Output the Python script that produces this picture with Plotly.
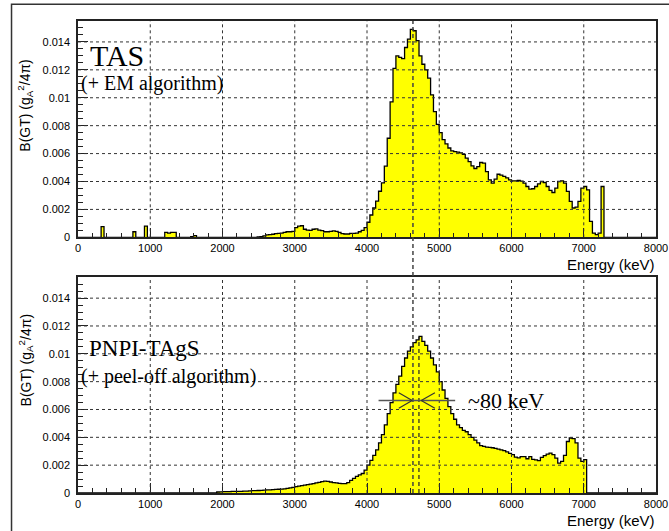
import numpy as np
import plotly.graph_objects as go

# ---------------- data (40 keV bins, value = B(GT) in g_A^2/4pi) ----------------
BIN_KEV = 40
tas_bin_start_kev = [320, 760, 920, 1200, 1240, 1280, 1320, 1560, 1600,
    2480, 2520, 2560, 2600, 2640, 2680, 2720, 2760, 2800, 2840, 2880, 2920, 2960,
    3000, 3040, 3080, 3120, 3160, 3200, 3240, 3280, 3320, 3360, 3400, 3440, 3480,
    3520, 3560, 3600, 3640, 3680, 3720, 3760, 3800, 3840, 3880, 3920, 3960,
    4000, 4040, 4080, 4120, 4160, 4200, 4240, 4280, 4320, 4360, 4400, 4440, 4480,
    4520, 4560, 4600, 4640, 4680, 4720, 4760, 4800, 4840, 4880, 4920, 4960,
    5000, 5040, 5080, 5120, 5160, 5200, 5240, 5280, 5320, 5360, 5400, 5440, 5480,
    5520, 5560, 5600, 5640, 5680, 5720, 5760, 5800, 5840, 5880, 5920, 5960,
    6000, 6040, 6080, 6120, 6160, 6200, 6240, 6280, 6320, 6360, 6400, 6440, 6480,
    6520, 6560, 6600, 6640, 6680, 6720, 6760, 6800, 6840, 6880, 6920, 6960,
    7000, 7040, 7080, 7120, 7160, 7200, 7240]
tas_bgt = [0.00076, 0.0004, 0.0008, 0.00035, 0.0003, 0.00035, 0.00035, 0.00004, 0.00012,
    0.00003, 0.00005, 0.0001, 0.00017, 0.0002, 0.00022, 0.00026, 0.00028, 0.0003, 0.00036, 0.0004, 0.0004, 0.00042,
    0.0007, 0.0008, 0.00083, 0.00058, 0.00052, 0.0005, 0.00058, 0.0006, 0.00052, 0.00048, 0.0004, 0.0004, 0.00043,
    0.00046, 0.00043, 0.00036, 0.00026, 0.00024, 0.00024, 0.00028, 0.00029, 0.0003, 0.0004, 0.0005, 0.0007,
    0.00108, 0.0016, 0.0021, 0.0026, 0.0033, 0.0039, 0.0051, 0.0071, 0.0097, 0.0121, 0.0130, 0.0129, 0.0128,
    0.0136, 0.0142, 0.0149, 0.0148, 0.0141, 0.0130, 0.0124, 0.0120, 0.0114, 0.0102, 0.0090, 0.0081,
    0.0075, 0.0070, 0.0067, 0.0064, 0.0062, 0.00614, 0.0061, 0.00605, 0.00595, 0.00567, 0.00543, 0.00512, 0.00493,
    0.00507, 0.00536, 0.00531, 0.00471, 0.00412, 0.00388, 0.00417, 0.00452, 0.00445, 0.00436, 0.00426, 0.00412,
    0.00405, 0.00405, 0.00407, 0.00402, 0.00388, 0.00364, 0.00345, 0.00348, 0.00364, 0.00383, 0.0040, 0.00393, 0.00364,
    0.00336, 0.00321, 0.00352, 0.0040, 0.00405, 0.00388, 0.00329, 0.00257, 0.0021, 0.00217, 0.00257, 0.00352,
    0.00364, 0.0034, 0.00114, 0.0003, 0.0002, 0.0003, 0.00364]

pnpi_bin_start_kev = list(range(1920, 7040, BIN_KEV))
pnpi_bgt = [0.00007, 0.00008, 0.0001, 0.0001, 0.0001, 0.00011, 0.00011, 0.00012, 0.00012, 0.00013,
    0.00014, 0.00015, 0.00017, 0.00017, 0.00018, 0.00019, 0.0002, 0.00022, 0.00023, 0.00024,
    0.00026, 0.00027, 0.00028, 0.0003, 0.00033, 0.00037, 0.00041, 0.00046, 0.0005, 0.00053,
    0.00056, 0.0006, 0.00064, 0.00068, 0.00072, 0.00076, 0.00082, 0.00086, 0.00083, 0.00079,
    0.00075, 0.00072, 0.00069, 0.00067, 0.00068, 0.00075, 0.0009, 0.00105, 0.0012, 0.0013,
    0.0014, 0.00165, 0.0020, 0.00235, 0.0027, 0.0031, 0.0036, 0.0042, 0.0049, 0.0057,
    0.0065, 0.0072, 0.0078, 0.0084, 0.0091, 0.0097, 0.0102, 0.0105, 0.0108, 0.0110,
    0.01125, 0.0109, 0.0106, 0.0102, 0.0097, 0.0092, 0.0087, 0.0080, 0.0074, 0.0068,
    0.0062, 0.0057, 0.0053, 0.0049, 0.0047, 0.0045, 0.0044, 0.0042, 0.0040, 0.0038,
    0.0036, 0.0034, 0.00335, 0.0033, 0.00328, 0.00325, 0.0032, 0.00315, 0.0031, 0.00305,
    0.00295, 0.00285, 0.00275, 0.00258, 0.00252, 0.00262, 0.00262, 0.00246, 0.00262, 0.00242,
    0.00238, 0.00232, 0.00256, 0.00268, 0.0028, 0.00287, 0.00275, 0.0025, 0.00215, 0.00227,
    0.0027, 0.0037, 0.00395, 0.0039, 0.0036, 0.0025, 0.00227, 0.0024]

y_tick_vals = [0, 0.002, 0.004, 0.006, 0.008, 0.01, 0.012, 0.014]
y_tick_text = ["0", "0.002", "0.004", "0.006", "0.008", "0.01", "0.012", "0.014"]
x_tick_vals = [0, 1000, 2000, 3000, 4000, 5000, 6000, 7000, 8000]
x_tick_text = ["0", "1000", "2000", "3000", "4000", "5000", "6000", "7000", "8000"]

tas_peak_kev = 4636
pnpi_peak_kev = 4719
fwhm_marker_bgt = 0.00665

# ---------------- build ----------------
def step_arrays(starts, vals):
    grid = np.arange(0, 8000 + BIN_KEV, BIN_KEV, dtype=float)
    y = np.zeros(len(grid))
    for s, v in zip(starts, vals):
        y[int(round(s / BIN_KEV))] = v
    return grid, y

SANS = "Liberation Sans, Arial, Helvetica, sans-serif"
SERIF = "Liberation Serif, Times New Roman, serif"
YELLOW = "#ffff00"

fig = go.Figure()
for idx, (starts, vals) in enumerate([(tas_bin_start_kev, tas_bgt), (pnpi_bin_start_kev, pnpi_bgt)]):
    gx, gy = step_arrays(starts, vals)
    fig.add_trace(go.Scatter(x=gx, y=gy, mode="lines",
                             line=dict(shape="hv", color="black", width=1.3),
                             fill="tozeroy", fillcolor=YELLOW, showlegend=False,
                             hoverinfo="skip",
                             xaxis="x" if idx == 0 else "x2",
                             yaxis="y" if idx == 0 else "y2"))

Y_MAX = 0.0155
axis_common = dict(showline=True, linecolor="#222", linewidth=1.5, mirror=True,
                   ticks="inside", ticklen=10, tickwidth=1, tickcolor="#222",
                   showgrid=False, zeroline=False, layer="above traces", automargin=False,
                   tickfont=dict(family=SANS, size=11, color="black"))
xa = dict(axis_common, range=[0, 8000], tickvals=x_tick_vals, ticktext=x_tick_text,
          minor=dict(ticks="inside", ticklen=5, dtick=200, tickcolor="#222", showgrid=False))
ya = dict(axis_common, range=[0, Y_MAX], tickvals=y_tick_vals, ticktext=y_tick_text,
          minor=dict(ticks="inside", ticklen=5, dtick=0.0005, tickcolor="#222", showgrid=False),
          ticklabelstandoff=4)

W, H = 669, 531
ML, MR, MT, MB = 77.5, 13.3, 20.7, 37.7
ph = H - MT - MB
top_lo = (493.3 - 237.3) / ph
bot_hi = (493.3 - 277.3) / ph

fig.update_layout(
    width=W, height=H, margin=dict(l=ML, r=MR, t=MT, b=MB, pad=0, autoexpand=False),
    paper_bgcolor="white", plot_bgcolor="white",
    xaxis=dict(xa, domain=[0, 1], anchor="y"),
    yaxis=dict(ya, domain=[top_lo, 1], anchor="x"),
    xaxis2=dict(xa, domain=[0, 1], anchor="y2"),
    yaxis2=dict(ya, domain=[0, bot_hi], anchor="x2"),
)

shapes = []
grid_line = dict(color="#333", width=1, dash="dot")
for xr, yr in [("x", "y"), ("x2", "y2")]:
    for xv in x_tick_vals[1:-1]:
        shapes.append(dict(type="line", xref=xr, yref=yr + " domain", x0=xv, x1=xv, y0=0, y1=1,
                           line=grid_line, layer="above"))
    for yv in y_tick_vals[1:]:
        shapes.append(dict(type="line", xref=xr + " domain", yref=yr, x0=0, x1=1, y0=yv, y1=yv,
                           line=grid_line, layer="above"))

# vertical dashed reference lines
shapes.append(dict(type="line", xref="x", yref="paper", x0=tas_peak_kev, x1=tas_peak_kev, y0=0, y1=1,
                   line=dict(color="#444", width=1.5, dash="4px,3px"), layer="above"))
shapes.append(dict(type="line", xref="x2", yref="y2", x0=pnpi_peak_kev, x1=pnpi_peak_kev, y0=0, y1=0.0112,
                   line=dict(color="#222", width=1.2, dash="4px,3px"), layer="above"))
# ~80 keV marker
mk = dict(color="#555", width=1.5)
shapes.append(dict(type="line", xref="x2", yref="y2", x0=4160, x1=5220, y0=fwhm_marker_bgt, y1=fwhm_marker_bgt, line=mk, layer="above"))
for tip, tail in [(4625, 4440), (4750, 4940)]:
    for dy in (0.00056, -0.00056):
        shapes.append(dict(type="line", xref="x2", yref="y2", x0=tail, x1=tip,
                           y0=fwhm_marker_bgt + dy, y1=fwhm_marker_bgt, line=dict(color="#333", width=1.2), layer="above"))
# outer frame (right and bottom edges lie just outside the picture)
def px_x(p): return (p - ML) / (W - ML - MR)
def px_y(p): return (H - MB - p) / ph
shapes.append(dict(type="rect", xref="paper", yref="paper", x0=px_x(11), x1=px_x(672),
                   y0=px_y(534), y1=px_y(4), line=dict(color="#333", width=1.5)))
fig.update_layout(shapes=shapes)

ann = []
ytitle = "B(GT) (g<sub>A</sub><sup>2</sup>/4π)"
for yc in (106, 361):
    ann.append(dict(text=ytitle, textangle=-90, xref="paper", yref="paper", x=px_x(25), y=px_y(yc),
                    showarrow=False, font=dict(family=SANS, size=14, color="black"),
                    xanchor="center", yanchor="middle"))
for yc in (265, 521):
    ann.append(dict(text="Energy (keV)", xref="paper", yref="paper", x=px_x(657), y=px_y(yc),
                    showarrow=False, font=dict(family=SANS, size=15, color="black"),
                    xanchor="right", yanchor="middle"))
texts = [("TAS", 88, 55, 30), ("(+ EM algorithm)", 79, 83, 20),
         ("PNPI-TAgS", 87, 349, 23), ("(+ peel-off algorithm)", 79, 377, 20),
         ("~80 keV", 466, 401, 22)]
for t, xl, yc, fs in texts:
    ann.append(dict(text=t, xref="paper", yref="paper", x=px_x(xl), y=px_y(yc), showarrow=False,
                    font=dict(family=SERIF, size=fs, color="black"), xanchor="left", yanchor="middle"))
fig.update_layout(annotations=ann)

fig.write_html("out.html", config={"displayModeBar": False},
               post_script="document.body.style.margin='0';document.body.style.overflow='hidden';")
